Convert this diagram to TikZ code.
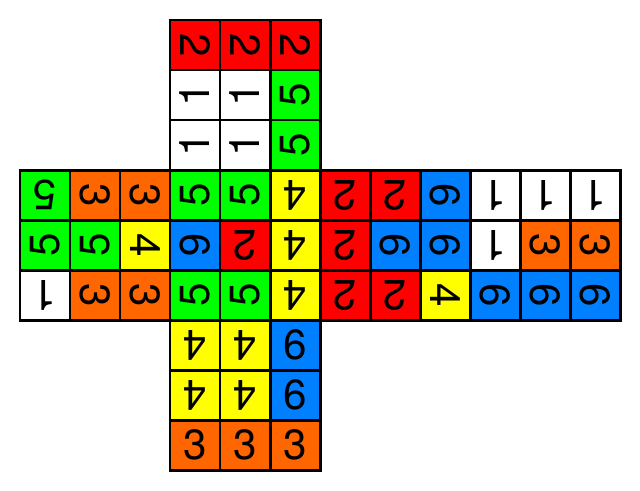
\documentclass[tikz,border=0pt]{standalone}
\usepackage{fontspec}
\setmainfont{TeX Gyre Heros}
\usetikzlibrary{positioning}
\definecolor{cred}{HTML}{FF0000}
\definecolor{cgreen}{HTML}{00FF00}
\definecolor{cblue}{HTML}{0080FF}
\definecolor{corange}{HTML}{FF6600}
\definecolor{cyellow}{HTML}{FFFF00}
\tikzset{
  sticker/.style={draw,line width=1.7pt,minimum width=1cm,minimum height=1cm,
    inner sep=0pt,font=\fontsize{24}{24}\selectfont},
}
\begin{document}
\begin{tikzpicture}
\useasboundingbox (0,0) rectangle (12.8,9.8);
% stickers: column/row/colour/number/turn
\foreach \c/\r/\col/\d/\a in {
  3/0/cred/2/-90, 4/0/cred/2/-90, 5/0/cred/2/-90,
  3/1/white/1/90, 4/1/white/1/90, 5/1/cgreen/5/90,
  3/2/white/1/90, 4/2/white/1/90, 5/2/cgreen/5/90,
  0/3/cgreen/5/180, 1/3/corange/3/-90, 2/3/corange/3/-90,
  0/4/cgreen/5/90, 1/4/cgreen/5/90, 2/4/cyellow/4/-90,
  0/5/white/1/180, 1/5/corange/3/-90, 2/5/corange/3/-90,
  3/3/cgreen/5/90, 4/3/cgreen/5/90, 5/3/cyellow/4/180,
  3/4/cblue/6/-90, 4/4/cred/2/180, 5/4/cyellow/4/180,
  3/5/cgreen/5/90, 4/5/cgreen/5/90, 5/5/cyellow/4/180,
  6/3/cred/2/180, 7/3/cred/2/180, 8/3/cblue/6/-90,
  6/4/cred/2/180, 7/4/cblue/6/-90, 8/4/cblue/6/-90,
  6/5/cred/2/180, 7/5/cred/2/180, 8/5/cyellow/4/-90,
  9/3/white/1/180, 10/3/white/1/180, 11/3/white/1/180,
  9/4/white/1/180, 10/4/corange/3/-90, 11/4/corange/3/-90,
  9/5/cblue/6/-90, 10/5/cblue/6/-90, 11/5/cblue/6/-90,
  3/6/cyellow/4/180, 4/6/cyellow/4/180, 5/6/cblue/6/0,
  3/7/cyellow/4/180, 4/7/cyellow/4/180, 5/7/cblue/6/0,
  3/8/corange/3/0, 4/8/corange/3/0, 5/8/corange/3/0}
  \node[sticker,fill=\col,rotate=\a] (s\c-\r) at (0.9+\c,8.9-\r) {\d};
\end{tikzpicture}
\end{document}
